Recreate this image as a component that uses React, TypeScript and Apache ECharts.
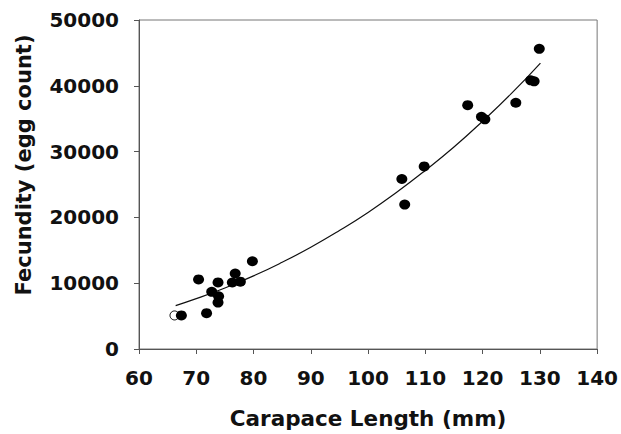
import React, { useEffect, useRef } from "react";
import * as echarts from "echarts";

// Observed (filled) points
const lengthMm = [67.4, 70.4, 71.8, 72.7, 73.9, 73.8, 73.8, 76.3, 76.8, 77.7, 79.8, 105.9, 106.4, 109.8, 117.4, 119.8, 120.4, 125.8, 128.4, 129.0, 129.9];
const eggCount = [5100, 10570, 5440, 8690, 8000, 7050, 10120, 10100, 11480, 10230, 13340, 25830, 21950, 27750, 37060, 35300, 34900, 37420, 40830, 40680, 45620];

// Open-circle point
const openLength = [66.2];
const openEggs = [5100];

// Fitted curve
const curveX = [66.4, 70, 75, 80, 85, 90, 95, 100, 105, 110, 115, 120, 125, 130.1];
const curveY = [6600, 7650, 9280, 11110, 13180, 15460, 18000, 20760, 23820, 27140, 30690, 34620, 38800, 43460];

const xTicks = { min: 60, max: 140, interval: 10 };
const yTicks = { min: 0, max: 50000, interval: 10000 };

export default function App() {
  const ref = useRef<HTMLDivElement>(null);
  useEffect(() => {
    if (!ref.current) return;
    const chart = echarts.init(ref.current, undefined, { renderer: "svg" });
    const font = "DejaVu Sans";
    chart.setOption({
      animation: false,
      backgroundColor: "#ffffff",
      grid: { left: 139, right: 23, top: 20, bottom: 83, show: true, borderColor: "#777", borderWidth: 1, backgroundColor: "transparent" },
      xAxis: {
        type: "value",
        min: xTicks.min,
        max: xTicks.max,
        interval: xTicks.interval,
        name: "Carapace Length (mm)",
        nameLocation: "middle",
        nameGap: 58,
        nameTextStyle: { fontFamily: font, fontWeight: "bold", fontSize: 21.5, color: "#111" },
        axisLine: { show: true, lineStyle: { color: "#555", width: 1 } },
        axisTick: { show: true, inside: false, length: 5, lineStyle: { color: "#555" } },
        axisLabel: { fontFamily: font, fontWeight: "bold", fontSize: 20, color: "#111", margin: 19 },
        splitLine: { show: false },
      },
      yAxis: {
        type: "value",
        min: yTicks.min,
        max: yTicks.max,
        interval: yTicks.interval,
        axisLine: { show: true, lineStyle: { color: "#555", width: 1 } },
        axisTick: { show: true, inside: false, length: 5, lineStyle: { color: "#555" } },
        axisLabel: { fontFamily: font, fontWeight: "bold", fontSize: 20, color: "#111", margin: 20, formatter: (v: number) => String(v) },
        splitLine: { show: false },
      },
      graphic: [
        {
          type: "text",
          x: 24,
          y: 165,
          rotation: Math.PI / 2,
          style: {
            text: "Fecundity (egg count)",
            fontFamily: font,
            fontWeight: "bold",
            fontSize: 21,
            fill: "#111",
            align: "center",
            verticalAlign: "middle",
          },
        },
      ],
      series: [
        {
          type: "line",
          data: curveX.map((x, i) => [x, curveY[i]]),
          smooth: true,
          showSymbol: false,
          symbol: "none",
          lineStyle: { color: "#111", width: 1.2 },
          z: 1,
        },
        {
          type: "scatter",
          data: openLength.map((x, i) => [x, openEggs[i]]),
          symbol: "circle",
          symbolSize: 9,
          itemStyle: { color: "#fff", borderColor: "#000", borderWidth: 1, opacity: 1 },
          z: 2,
        },
        {
          type: "scatter",
          data: lengthMm.map((x, i) => [x, eggCount[i]]),
          symbol: "circle",
          symbolSize: [11, 10],
          itemStyle: { color: "#000", opacity: 1 },
          z: 3,
        },
      ],
    });
    return () => chart.dispose();
  }, []);
  return <div ref={ref} style={{ position: "fixed", left: 0, top: 0, width: 621, height: 434 }} />;
}
